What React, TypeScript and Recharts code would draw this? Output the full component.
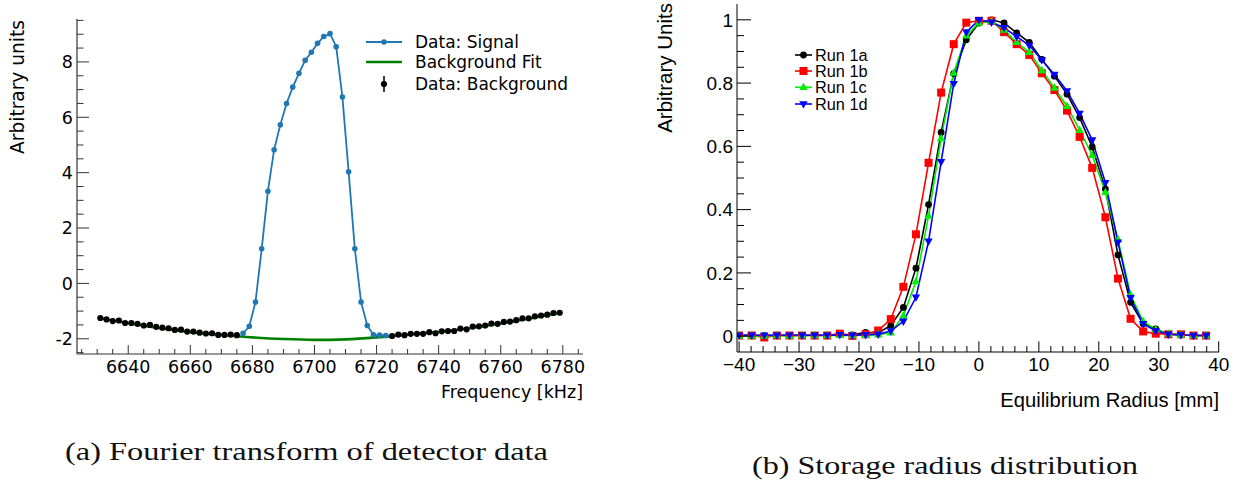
import React from "react";
import { LineChart, Line, XAxis, YAxis } from "recharts";

// ---------- (a) Fourier transform of detector data ----------
const bgFreq = [
  6631, 6633, 6635, 6637, 6639, 6641, 6643, 6645, 6647, 6649, 6651, 6653, 6655, 6657, 6659, 6661, 6663, 6665, 6667,
  6669, 6671, 6673, 6675, 6725, 6727, 6729, 6731, 6733, 6735, 6737, 6739, 6741, 6743, 6745, 6747, 6749, 6751, 6753,
  6755, 6757, 6759, 6761, 6763, 6765, 6767, 6769, 6771, 6773, 6775, 6777, 6779,
];
const bgValue = [
  -1.25, -1.3, -1.36, -1.34, -1.43, -1.43, -1.46, -1.52, -1.5, -1.57, -1.6, -1.62, -1.68, -1.67, -1.74, -1.74, -1.78,
  -1.81, -1.8, -1.86, -1.86, -1.85, -1.87, -1.9, -1.85, -1.87, -1.82, -1.82, -1.82, -1.76, -1.8, -1.73, -1.72, -1.72,
  -1.63, -1.66, -1.56, -1.55, -1.52, -1.45, -1.46, -1.39, -1.38, -1.33, -1.26, -1.26, -1.19, -1.16, -1.13, -1.07, -1.06,
];
const sigFreq = [
  6677, 6679, 6681, 6683, 6685, 6687, 6689, 6691, 6693, 6695, 6697, 6699, 6701, 6703, 6705, 6707, 6709, 6711, 6713,
  6715, 6717, 6719, 6721, 6723,
];
const sigValue = [
  -1.8, -1.55, -0.67, 1.25, 3.33, 4.83, 5.73, 6.5, 7.09, 7.59, 8.06, 8.35, 8.67, 8.92, 9.02, 8.55, 6.73, 4.03, 1.25,
  -0.67, -1.52, -1.86, -1.87, -1.88,
];
const fitFreq = [6631, 6645, 6660, 6675, 6690, 6700, 6710, 6720, 6730, 6745, 6760, 6779];
const fitValue = [-1.26, -1.53, -1.76, -1.91, -2.01, -2.04, -2.02, -1.95, -1.85, -1.69, -1.45, -1.07];

const freqTicks = [
  6625, 6630, 6635, 6640, 6645, 6650, 6655, 6660, 6665, 6670, 6675, 6680, 6685, 6690, 6695, 6700, 6705, 6710, 6715,
  6720, 6725, 6730, 6735, 6740, 6745, 6750, 6755, 6760, 6765, 6770, 6775, 6780, 6785,
];
const unitTicks = [
  -2.5, -2, -1.5, -1, -0.5, 0, 0.5, 1, 1.5, 2, 2.5, 3, 3.5, 4, 4.5, 5, 5.5, 6, 6.5, 7, 7.5, 8, 8.5, 9, 9.5,
];

// ---------- (b) Storage radius distribution ----------
const radius = [
  -40.0, -37.9, -35.8, -33.7, -31.6, -29.5, -27.4, -25.3, -23.2, -21.1, -18.9, -16.8, -14.7, -12.6, -10.5, -8.4, -6.3,
  -4.2, -2.1, 0, 2.1, 4.2, 6.3, 8.4, 10.5, 12.6, 14.7, 16.8, 18.9, 21.1, 23.2, 25.3, 27.4, 29.5, 31.6, 33.7, 35.8, 37.9,
];
const run1a = [
  0.003, 0.003, 0.002, 0.003, 0.003, 0.003, 0.003, 0.003, 0.006, 0.004, 0.012, 0.01, 0.034, 0.091, 0.215, 0.416, 0.644,
  0.83, 0.937, 0.99, 1.0, 0.99, 0.959, 0.929, 0.875, 0.822, 0.765, 0.691, 0.598, 0.465, 0.257, 0.107, 0.039, 0.023,
  0.006, 0.004, 0.002, 0.002,
];
const run1b = [
  0.002, 0.002, -0.004, 0.002, 0.002, 0.002, 0.002, 0.002, 0.008, 0.001, 0.006, 0.018, 0.054, 0.156, 0.322, 0.548,
  0.77, 0.923, 0.991, 0.997, 0.997, 0.961, 0.923, 0.889, 0.831, 0.778, 0.713, 0.63, 0.532, 0.376, 0.182, 0.055, 0.015,
  0.008, 0.006, 0.006, 0.002, 0.002,
];
const run1c = [
  0.001, 0.001, 0.001, 0.002, 0.001, 0.002, 0.002, 0.002, 0.003, 0.002, 0.003, 0.005, 0.011, 0.065, 0.173, 0.38, 0.625,
  0.832, 0.95, 0.99, 0.995, 0.968, 0.929, 0.898, 0.84, 0.785, 0.727, 0.651, 0.572, 0.455, 0.305, 0.131, 0.047, 0.021,
  0.007, 0.004, 0.002, 0.002,
];
const run1d = [
  0.003, 0.003, 0.003, 0.003, 0.003, 0.003, 0.003, 0.003, 0.004, 0.003, 0.004, 0.006, 0.016, 0.047, 0.123, 0.3, 0.551,
  0.798, 0.961, 1.0, 0.992, 0.975, 0.947, 0.919, 0.873, 0.827, 0.775, 0.704, 0.62, 0.485, 0.297, 0.121, 0.039, 0.017,
  0.006, 0.004, 0.002, 0.002,
];
const radiusTicks = [
  -40, -38, -36, -34, -32, -30, -28, -26, -24, -22, -20, -18, -16, -14, -12, -10, -8, -6, -4, -2, 0, 2, 4, 6, 8, 10, 12,
  14, 16, 18, 20, 22, 24, 26, 28, 30, 32, 34, 36, 38, 40,
];
const fracTicks = [
  0, 0.05, 0.1, 0.15, 0.2, 0.25, 0.3, 0.35, 0.4, 0.45, 0.5, 0.55, 0.6, 0.65, 0.7, 0.75, 0.8, 0.85, 0.9, 0.95, 1,
];

const runs = [
  { key: "a", name: "Run 1a", color: "#000000", shape: "circle" },
  { key: "b", name: "Run 1b", color: "#ff0000", shape: "square" },
  { key: "c", name: "Run 1c", color: "#00ee00", shape: "up" },
  { key: "d", name: "Run 1d", color: "#0000ff", shape: "down" },
];

const bgData = bgFreq.map((f, i) => ({ f, v: bgValue[i] }));
const sigData = sigFreq.map((f, i) => ({ f, v: sigValue[i] }));
const fitData = fitFreq.map((f, i) => ({ f, v: fitValue[i] }));
const radData = radius.map((r, i) => ({ r, a: run1a[i], b: run1b[i], c: run1c[i], d: run1d[i] }));

const MPL = "DejaVu Sans, sans-serif";
const ROOTF = "Liberation Sans, Arial, sans-serif";

// tick factory: ticks drawn inside the frame, labels outside
type TickCfg = {
  side: "bottom" | "top" | "left" | "right";
  isMajor: (v: number) => boolean;
  major: number;
  minor: number;
  color: string;
  label?: (v: number) => string;
  font?: string;
  size?: number;
  gap?: number;
};
const makeTick = (c: TickCfg) => (props: any) => {
  const { x, y, payload } = props;
  const v = payload.value as number;
  const mj = c.isMajor(v);
  const len = mj ? c.major : c.minor;
  let line;
  if (c.side === "bottom") line = <line x1={x} x2={x} y1={y} y2={y - len} stroke={c.color} />;
  else if (c.side === "top") line = <line x1={x} x2={x} y1={y} y2={y + len} stroke={c.color} />;
  else if (c.side === "left") line = <line x1={x} x2={x + len} y1={y} y2={y} stroke={c.color} />;
  else line = <line x1={x} x2={x - len} y1={y} y2={y} stroke={c.color} />;
  let txt = null;
  if (mj && c.label) {
    if (c.side === "bottom")
      txt = (
        <text x={x} y={y + (c.gap || 0)} textAnchor="middle" fontFamily={c.font} fontSize={c.size} fill="#000">
          {c.label(v)}
        </text>
      );
    else
      txt = (
        <text x={x - (c.gap || 0)} y={y} dy="0.36em" textAnchor="end" fontFamily={c.font} fontSize={c.size} fill="#000">
          {c.label(v)}
        </text>
      );
  }
  return (
    <g>
      {line}
      {txt}
    </g>
  );
};

const isMul = (v: number, m: number) => Math.abs(v / m - Math.round(v / m)) < 1e-6;

const fBottom = makeTick({ side: "bottom", isMajor: (v) => isMul(v, 20), major: 9, minor: 5, color: "#333", label: (v) => String(v), font: MPL, size: 17.5, gap: 19 });
const fTop = makeTick({ side: "top", isMajor: (v) => isMul(v, 20), major: 9, minor: 5, color: "#333" });
const uLeft = makeTick({ side: "left", isMajor: (v) => isMul(v, 2), major: 12, minor: 6.5, color: "#333", label: (v) => String(v), font: MPL, size: 17.5, gap: 4 });
const uRight = makeTick({ side: "right", isMajor: (v) => isMul(v, 2), major: 12, minor: 6.5, color: "#333" });

const rBottom = makeTick({ side: "bottom", isMajor: (v) => isMul(v, 10), major: 10.7, minor: 6, color: "#000", label: (v) => (v < 0 ? "\u2212" + Math.abs(v) : String(v)), font: ROOTF, size: 19, gap: 19.4 });
const rTop = makeTick({ side: "top", isMajor: (v) => isMul(v, 10), major: 10.7, minor: 6, color: "#000" });
const pLeft = makeTick({ side: "left", isMajor: (v) => isMul(v, 0.2), major: 14, minor: 7, color: "#000", label: (v) => (v === 0 ? "0" : v === 1 ? "1" : v.toFixed(1)), font: ROOTF, size: 19, gap: 4 });
const pRight = makeTick({ side: "right", isMajor: (v) => isMul(v, 0.2), major: 14, minor: 7, color: "#000" });

const marker = (shape: string, color: string, cx: number, cy: number, key?: any) => {
  if (shape === "circle") return <circle key={key} cx={cx} cy={cy} r={3.4} fill={color} />;
  if (shape === "square") return <rect key={key} x={cx - 4} y={cy - 4} width={8} height={8} fill={color} />;
  if (shape === "up")
    return <path key={key} d={`M${cx},${cy - 4.6} L${cx + 4.2},${cy + 2.8} L${cx - 4.2},${cy + 2.8} Z`} fill={color} />;
  return <path key={key} d={`M${cx},${cy + 4.6} L${cx + 4.2},${cy - 2.8} L${cx - 4.2},${cy - 2.8} Z`} fill={color} />;
};

export default function App() {
  return (
    <div style={{ position: "absolute", left: 0, top: 0, width: 1240, height: 489, background: "#fff" }}>
      {/* (a) */}
      <div style={{ position: "absolute", left: 0, top: 0 }}>
        <LineChart width={600} height={420} margin={{ top: 19, right: 17, bottom: 0, left: 0 }}>
          <XAxis dataKey="f" type="number" domain={[6623.5, 6786.5]} ticks={freqTicks} interval={0} height={66}
            allowDataOverflow tickSize={0} tickMargin={0} tickLine={false} tick={fBottom} axisLine={{ stroke: "#333", strokeWidth: 1.2 }} />
          <XAxis xAxisId="top" orientation="top" dataKey="f" type="number" domain={[6623.5, 6786.5]} ticks={freqTicks}
            interval={0} height={0} allowDataOverflow tickSize={0} tickMargin={0} tickLine={false} tick={fTop} axisLine={{ stroke: "#333", strokeWidth: 1.2 }} />
          <YAxis type="number" domain={[-2.55, 9.55]} ticks={unitTicks} interval={0} width={77} allowDataOverflow
            tickSize={0} tickMargin={0} tickLine={false} tick={uLeft} axisLine={{ stroke: "#333", strokeWidth: 1.2 }} />
          <YAxis yAxisId="right" orientation="right" type="number" domain={[-2.55, 9.55]} ticks={unitTicks} interval={0}
            width={0} allowDataOverflow tickSize={0} tickMargin={0} tickLine={false} tick={uRight} axisLine={{ stroke: "#333", strokeWidth: 1.2 }} />
          <Line data={sigData} dataKey="v" stroke="#1f77b4" strokeWidth={1.8} isAnimationActive={false}
            dot={{ r: 2.8, fill: "#1f77b4", stroke: "none" }} />
          <Line data={fitData} dataKey="v" type="monotone" stroke="#008000" strokeWidth={2.6} dot={false} isAnimationActive={false} />
          <Line data={bgData} dataKey="v" stroke="none" isAnimationActive={false} dot={{ r: 3.1, fill: "#000", stroke: "none" }} />
        </LineChart>
      </div>

      {/* (b) */}
      <div style={{ position: "absolute", left: 620, top: 0 }}>
        <LineChart width={620} height={420} data={radData} margin={{ top: 4, right: 21, bottom: 0, left: 0 }}>
          <XAxis dataKey="r" type="number" domain={[-40.35, 40.05]} ticks={radiusTicks} interval={0} height={68}
            allowDataOverflow tickSize={0} tickMargin={0} tickLine={false} tick={rBottom} axisLine={{ stroke: "#000" }} />
          <XAxis xAxisId="top" orientation="top" dataKey="r" type="number" domain={[-40.35, 40.05]} ticks={radiusTicks}
            interval={0} height={0} allowDataOverflow tickSize={0} tickMargin={0} tickLine={false} tick={rTop} axisLine={{ stroke: "#000" }} />
          <YAxis type="number" domain={[-0.05, 1.05]} ticks={fracTicks} interval={0} width={117} allowDataOverflow
            tickSize={0} tickMargin={0} tickLine={false} tick={pLeft} axisLine={{ stroke: "#000" }} />
          <YAxis yAxisId="right" orientation="right" type="number" domain={[-0.05, 1.05]} ticks={fracTicks} interval={0}
            width={0} allowDataOverflow tickSize={0} tickMargin={0} tickLine={false} tick={pRight} axisLine={{ stroke: "#000" }} />
          {runs.map((s) => (
            <Line key={s.key} dataKey={s.key} stroke={s.color} strokeWidth={1.6} isAnimationActive={false}
              dot={(p: any) => marker(s.shape, s.color, p.cx, p.cy, p.index)} />
          ))}
        </LineChart>
      </div>

      {/* axis titles, legends, captions */}
      <svg width={1240} height={489} style={{ position: "absolute", left: 0, top: 0, pointerEvents: "none" }}>
        <text transform="translate(24,20) rotate(-90)" textAnchor="end" fontFamily={MPL} fontSize={18.6} fill="#000">
          Arbitrary units
        </text>
        <text x={583} y={398} textAnchor="end" fontFamily={MPL} fontSize={17.5} fill="#000">
          Frequency [kHz]
        </text>
        <g fontFamily={MPL} fontSize={17} fill="#000">
          <line x1={366} x2={402} y1={42} y2={42} stroke="#1f77b4" strokeWidth={1.8} />
          <circle cx={384} cy={42} r={2.8} fill="#1f77b4" />
          <text x={415} y={48}>Data: Signal</text>
          <line x1={366} x2={402} y1={62} y2={62} stroke="#008000" strokeWidth={2.6} />
          <text x={415} y={68}>Background Fit</text>
          <line x1={384} x2={384} y1={76} y2={92} stroke="#000" strokeWidth={1.5} />
          <circle cx={384} cy={84} r={3.1} fill="#000" />
          <text x={415} y={90}>Data: Background</text>
        </g>

        <text transform="translate(671.5,3) rotate(-90)" textAnchor="end" fontFamily={ROOTF} fontSize={20.5} fill="#000">
          Arbitrary Units
        </text>
        <text x={1219} y={406.5} textAnchor="end" fontFamily={ROOTF} fontSize={20.2} fill="#000">
          Equilibrium Radius [mm]
        </text>
        <g fontFamily={ROOTF} fontSize={16.3} fill="#000">
          {runs.map((s, i) => {
            const cy = [55, 71, 87.3, 104][i];
            return (
              <g key={s.key}>
                <line x1={795} x2={812} y1={cy} y2={cy} stroke={s.color} strokeWidth={1.6} />
                {marker(s.shape, s.color, 803.5, cy)}
                <text x={815} y={cy + 5.8}>{s.name}</text>
              </g>
            );
          })}
        </g>

        <text x={65} y={460} fontFamily="Liberation Serif, serif" fontSize={26} textLength={483} lengthAdjust="spacingAndGlyphs" fill="#111">
          (a) Fourier transform of detector data
        </text>
        <text x={752} y={474} fontFamily="Liberation Serif, serif" fontSize={26} textLength={386} lengthAdjust="spacingAndGlyphs" fill="#111">
          (b) Storage radius distribution
        </text>
      </svg>
    </div>
  );
}
